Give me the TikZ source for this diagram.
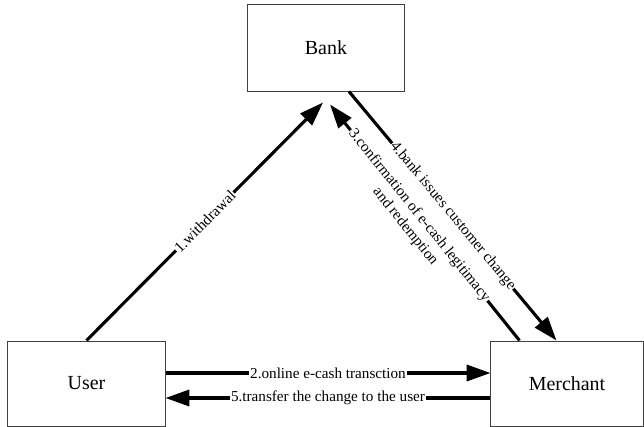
\documentclass[tikz,border=0pt]{standalone}
\usepackage{fontspec}
\setmainfont{Liberation Serif}
\usetikzlibrary{arrows.meta,calc}

\begin{document}
\begin{tikzpicture}[
    x=0.025cm, y=-0.025cm,
    box/.style={draw=black!75, line width=0.7pt, minimum height=2.125cm, font=\fontsize{14.2}{17}\selectfont},
    msg/.style={-{Triangle[length=17pt,width=11.5pt]}, line width=2.2pt},
    lbl/.style={fill=white, inner sep=0.6pt, font=\fontsize{10.8}{12.6}\selectfont}
  ]
  \useasboundingbox (0,0) rectangle (644,427);

  \node[box, minimum width=3.9cm, minimum height=2.15cm] (bank) at (326,48) {Bank};
  \node[box, minimum width=3.925cm] (user) at (86.5,383.5) {User};
  \node[box, minimum width=3.8cm] (merchant) at (567,383.5) {Merchant};

  % ends of the slanted arrows
  \coordinate (wdraw) at ([shift={(-3,11)}]bank.south);
  \coordinate (conf) at ([shift={(4,13)}]bank.south);
  \coordinate (confstart) at ([shift={(29,0)}]merchant.north west);

  \draw[msg] (user.north) -- node[lbl, sloped] {1.withdrawal} (wdraw);
  \draw[msg] ([shift={(23,0)}]bank.south) -- node[lbl, sloped] {4.bank issues customer change} ([shift={(66,0)}]merchant.north west);
  \draw[msg] (confstart) -- (conf);
  \path ([shift={(-6.9,5.6)}]conf) -- ([shift={(-6.9,5.6)}]confstart)
    node[lbl, sloped, pos=0.47, align=center] {3.confirmation of e-cash legitimacy\\and redemption};

  \draw[msg] ([shift={(0,-10.5)}]user.east) -- node[lbl] {2.online e-cash transction} ([shift={(0,-10.5)}]merchant.west);
  \draw[msg] ([shift={(0,14.5)}]merchant.west) -- node[lbl] {5.transfer the change to the user} ([shift={(0,14.5)}]user.east);
\end{tikzpicture}
\end{document}
